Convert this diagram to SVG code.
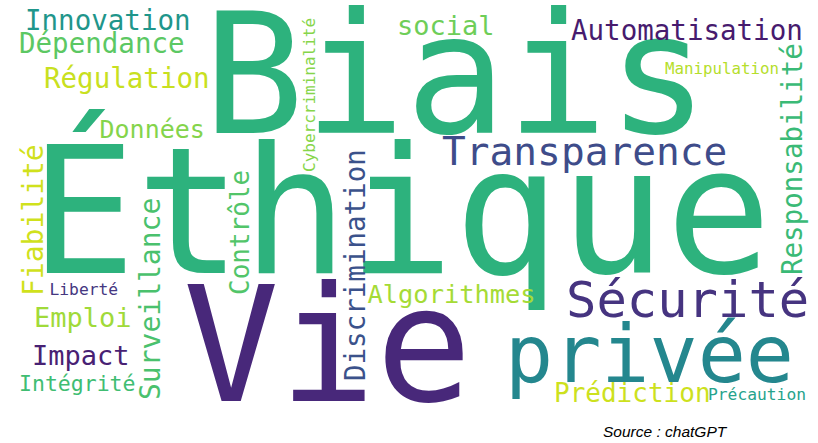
<svg xmlns="http://www.w3.org/2000/svg" width="818" height="443" viewBox="0 0 818 443">
<style>
text{font-family:"DejaVu Sans Mono","Liberation Mono",monospace;}
.src{font-family:"Liberation Sans",Arial,sans-serif;font-style:italic;font-size:15.5px;fill:#000;}
</style>
<rect width="818" height="443" fill="#fff"/>
<g id="w-biais"><text x="203" y="133" font-size="168" fill="#2db27d">Biais</text></g>
<g id="w-ethique"><text x="30" y="273" font-size="176" fill="#2db27d">Éthique</text></g>
<g id="w-vie"><text x="183" y="401" font-size="160" fill="#48287a">Vie</text></g>
<g id="w-privee"><text x="505" y="382" font-size="80" fill="#24878e">privée</text></g>
<g id="w-securite"><text x="566" y="317" font-size="50.5" fill="#463480">Sécurité</text></g>
<g id="w-transparence"><text x="442" y="165" font-size="39.5" fill="#3e4c8a">Transparence</text></g>
<g id="w-automatisation"><text x="571" y="40" font-size="27.5" fill="#471b6e">Automatisation</text></g>
<g id="w-manipulation"><text x="665" y="74" font-size="15.8" fill="#b5de2b">Manipulation</text></g>
<g id="w-responsabilite"><text transform="translate(802 275) rotate(-90)" font-size="27.5" fill="#3aba76">Responsabilité</text></g>
<g id="w-innovation"><text x="25" y="30" font-size="27.5" fill="#1f968b">Innovation</text></g>
<g id="w-dependance"><text x="19" y="53" font-size="27.5" fill="#5cc863">Dépendance</text></g>
<g id="w-regulation"><text x="44" y="88" font-size="27.5" fill="#c8e020">Régulation</text></g>
<g id="w-donnees"><text x="99.5" y="138" font-size="25" fill="#84d44b">Données</text></g>
<g id="w-social"><text x="397" y="35" font-size="27" fill="#6ece58">social</text></g>
<g id="w-cybercriminalite"><text transform="translate(315 172) rotate(-90)" font-size="16" fill="#86d549">Cybercriminalité</text></g>
<g id="w-fiabilite"><text transform="translate(43 296) rotate(-90)" font-size="28" fill="#d0e11c">Fiabilité</text></g>
<g id="w-liberte"><text x="49.5" y="295" font-size="16.3" fill="#453781">Liberté</text></g>
<g id="w-emploi"><text x="34" y="327" font-size="27" fill="#a0da39">Emploi</text></g>
<g id="w-impact"><text x="32" y="365" font-size="27" fill="#482173">Impact</text></g>
<g id="w-integrite"><text x="19" y="391" font-size="21.5" fill="#40bd72">Intégrité</text></g>
<g id="w-surveillance"><text transform="translate(160 400) rotate(-90)" font-size="28" fill="#4ac16d">Surveillance</text></g>
<g id="w-controle"><text transform="translate(249 295) rotate(-90)" font-size="26" fill="#52c569">Contrôle</text></g>
<g id="w-discrimination"><text transform="translate(365 381) rotate(-90)" font-size="27.5" fill="#3b528b">Discrimination</text></g>
<g id="w-algorithmes"><text x="367.5" y="303" font-size="25.4" fill="#a5db36">Algorithmes</text></g>
<g id="w-prediction"><text x="554" y="402" font-size="26" fill="#cde11d">Prédiction</text></g>
<g id="w-precaution"><text x="708" y="400" font-size="16.3" fill="#26a38c">Précaution</text></g>
<g id="source"><text class="src" x="603" y="437">Source : chatGPT</text></g>
</svg>
